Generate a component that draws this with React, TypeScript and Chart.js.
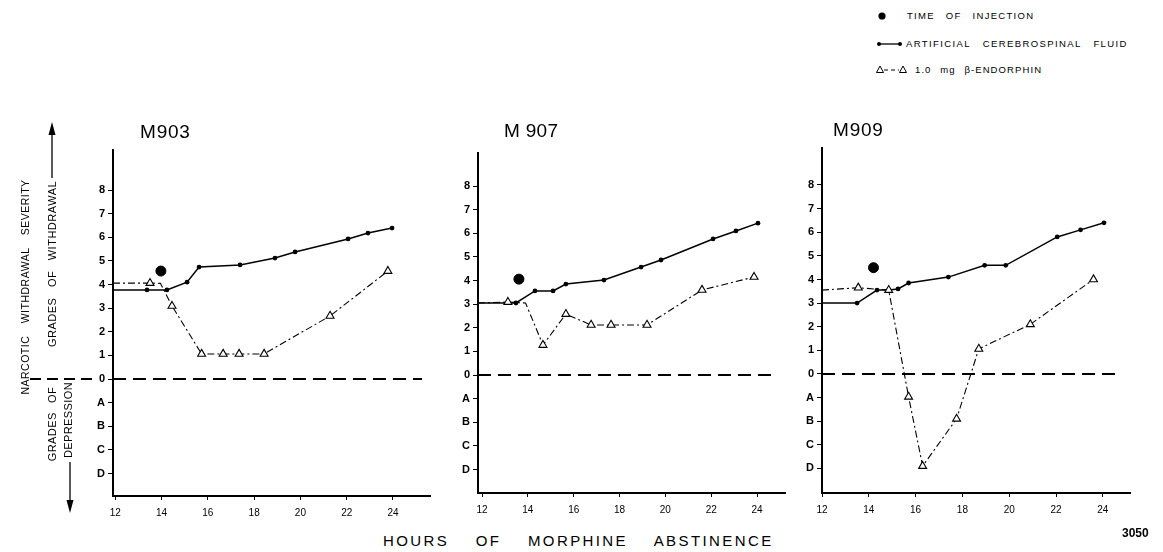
import React, { useEffect, useRef } from 'react';
import { Chart, registerables } from 'chart.js';

Chart.register(...registerables);

const FONT = "'Liberation Sans', 'DejaVu Sans', Arial, sans-serif";

// ---- axis ticks ----
const hourTicks = [12, 14, 16, 18, 20, 22, 24];
const gradeTicks = [-4, -3, -2, -1, 0, 1, 2, 3, 4, 5, 6, 7, 8];
const gradeLabels = ['D', 'C', 'B', 'A', '0', '1', '2', '3', '4', '5', '6', '7', '8'];

// ---- M903 ----
const m903AcsfHours = [13.37, 14.23, 15.1, 15.62, 17.39, 18.9, 19.77, 22.06, 22.92, 23.96];
const m903AcsfGrades = [3.77, 3.77, 4.1, 4.74, 4.83, 5.12, 5.38, 5.93, 6.18, 6.39];
const m903AcsfBaseline = 3.77;
const m903EndoHours = [13.5, 14.45, 15.73, 16.66, 17.35, 18.43, 21.28, 23.78];
const m903EndoGrades = [4.06, 3.09, 1.06, 1.06, 1.06, 1.06, 2.67, 4.57];
const m903EndoBaseline = 4.06;
const m903EndoBends = [[13.95, 4.05]];
const m903Injection = [13.97, 4.57];

// ---- M907 ----
const m907AcsfHours = [13.48, 14.31, 15.1, 15.66, 17.32, 18.94, 19.81, 22.08, 23.08, 24.04];
const m907AcsfGrades = [3.05, 3.56, 3.56, 3.85, 4.02, 4.57, 4.87, 5.76, 6.1, 6.43];
const m907AcsfBaseline = 3.05;
const m907EndoHours = [13.13, 14.66, 15.66, 16.76, 17.63, 19.2, 21.6, 23.87];
const m907EndoGrades = [3.09, 1.27, 2.58, 2.12, 2.12, 2.12, 3.6, 4.15];
const m907EndoBaseline = 3.05;
const m907EndoBends = [[13.9, 3.05]];
const m907Injection = [13.61, 4.06];

// ---- M909 ----
const m909AcsfHours = [13.5, 14.35, 14.85, 15.25, 15.7, 17.4, 18.95, 19.85, 22.05, 23.05, 24.05];
const m909AcsfGrades = [3.0, 3.55, 3.55, 3.6, 3.85, 4.1, 4.6, 4.6, 5.8, 6.1, 6.4];
const m909AcsfBaseline = 3.0;
const m909EndoHours = [13.55, 14.85, 15.7, 16.3, 17.75, 18.7, 20.9, 23.6];
const m909EndoGrades = [3.65, 3.55, -0.97, -3.9, -1.9, 1.06, 2.1, 4.0];
const m909EndoBaseline = 3.55;
const m909EndoBends: number[][] = [];
const m909Injection = [14.2, 4.5];

type Pt = { x: number; y: number };
const zip = (xs: number[], ys: number[]): Pt[] => xs.map((x, i) => ({ x, y: ys[i] }));

const panels = [
  {
    id: 'M903', left: 0, top: 140, w: 440, h: 386, yAxisWidth: 113,
    xMin: 11.9, xMax: 25.6, yMin: -4.953, yMax: 9.695, leftDash: [30, 96],
    acsfHours: m903AcsfHours, acsfGrades: m903AcsfGrades, acsfBase: m903AcsfBaseline,
    endoHours: m903EndoHours, endoGrades: m903EndoGrades, endoBase: m903EndoBaseline, endoBends: m903EndoBends,
    injection: m903Injection,
  },
  {
    id: 'M907', left: 438, top: 143, w: 357, h: 380, yAxisWidth: 40,
    xMin: 11.825, xMax: 25.22, yMin: -4.995, yMax: 9.4, leftDash: null,
    acsfHours: m907AcsfHours, acsfGrades: m907AcsfGrades, acsfBase: m907AcsfBaseline,
    endoHours: m907EndoHours, endoGrades: m907EndoGrades, endoBase: m907EndoBaseline, endoBends: m907EndoBends,
    injection: m907Injection,
  },
  {
    id: 'M909', left: 782, top: 138, w: 358, h: 385, yAxisWidth: 40,
    xMin: 12, xMax: 25.16, yMin: -5.04, yMax: 9.566, leftDash: null,
    acsfHours: m909AcsfHours, acsfGrades: m909AcsfGrades, acsfBase: m909AcsfBaseline,
    endoHours: m909EndoHours, endoGrades: m909EndoGrades, endoBase: m909EndoBaseline, endoBends: m909EndoBends,
    injection: m909Injection,
  },
];

const zeroLinePlugin = {
  id: 'zeroLine',
  beforeDatasetsDraw(chart: any, _args: any, opts: any) {
    const { ctx, chartArea, scales } = chart;
    const y = scales.y.getPixelForValue(0);
    ctx.save();
    ctx.strokeStyle = '#000';
    ctx.lineWidth = 2;
    ctx.setLineDash([13, 7]);
    ctx.beginPath();
    ctx.moveTo(chartArea.left, y);
    ctx.lineTo(chartArea.right - 8, y);
    ctx.stroke();
    if (opts && opts.leftDash) {
      ctx.setLineDash([11, 6]);
      ctx.beginPath();
      ctx.moveTo(opts.leftDash[0], y);
      ctx.lineTo(opts.leftDash[1], y);
      ctx.stroke();
    }
    ctx.restore();
  },
};

function Panel({ p }: { p: any }) {
  const ref = useRef<HTMLCanvasElement | null>(null);
  useEffect(() => {
    if (!ref.current) return;
    const acsfPts = zip(p.acsfHours, p.acsfGrades);
    const endoPts = zip(p.endoHours, p.endoGrades);
    const acsfTrace = [{ x: p.xMin, y: p.acsfBase }, ...acsfPts];
    const endoTrace = [
      { x: p.xMin, y: p.endoBase },
      ...endoPts,
      ...p.endoBends.map((b: number[]) => ({ x: b[0], y: b[1] })),
    ].sort((a, b) => a.x - b.x);

    const chart = new Chart(ref.current, {
      type: 'scatter',
      data: {
        datasets: [
          {
            label: '1.0 mg β-endorphin',
            data: endoPts,
            showLine: false,
            pointStyle: 'triangle',
            pointRadius: 4.6,
            pointBackgroundColor: '#fff',
            pointBorderColor: '#000',
            pointBorderWidth: 1.1,
            order: 0,
          } as any,
          {
            label: 'Artificial cerebrospinal fluid',
            data: acsfPts,
            showLine: false,
            pointStyle: 'circle',
            pointRadius: 2.4,
            pointBackgroundColor: '#000',
            pointBorderColor: '#000',
            pointBorderWidth: 0,
            order: 0,
          },
          {
            label: 'Time of injection',
            data: [{ x: p.injection[0], y: p.injection[1] }],
            showLine: false,
            pointStyle: 'circle',
            pointRadius: 5,
            pointBackgroundColor: '#000',
            pointBorderColor: '#000',
            order: 0,
          },
          {
            label: 'ACSF trace',
            data: acsfTrace,
            showLine: true,
            borderColor: '#000',
            borderWidth: 1.5,
            pointRadius: 0,
            order: 1,
          },
          {
            label: 'Endorphin trace',
            data: endoTrace,
            showLine: true,
            borderColor: '#000',
            borderWidth: 1.1,
            borderDash: [7, 3, 2, 3],
            pointRadius: 0,
            order: 1,
          },
        ],
      },
      options: {
        responsive: false,
        animation: false,
        events: [],
        layout: { padding: { top: 10, right: 10, bottom: 0, left: 0 } },
        plugins: {
          legend: { display: false },
          tooltip: { enabled: false },
          zeroLine: { leftDash: p.leftDash },
        } as any,
        scales: {
          x: {
            type: 'linear',
            min: p.xMin,
            max: p.xMax,
            afterBuildTicks: (s: any) => {
              s.ticks = hourTicks.map((v) => ({ value: v }));
            },
            afterFit: (s: any) => {
              s.height = 30;
            },
            border: { display: true, color: '#000', width: 2 },
            grid: { drawOnChartArea: false, drawTicks: true, tickLength: 4, color: '#000', lineWidth: 1 },
            ticks: {
              color: '#000',
              font: { family: FONT, size: 10 },
              padding: 7,
              maxRotation: 0,
              autoSkip: false,
              callback: (v: any) => String(v),
            },
          },
          y: {
            type: 'linear',
            min: p.yMin,
            max: p.yMax,
            afterBuildTicks: (s: any) => {
              s.ticks = gradeTicks.map((v) => ({ value: v }));
            },
            afterFit: (s: any) => {
              s.width = p.yAxisWidth;
            },
            border: { display: true, color: '#000', width: 2 },
            grid: { drawOnChartArea: false, drawTicks: true, tickLength: 5, color: '#000', lineWidth: 1 },
            ticks: {
              color: '#000',
              font: { family: FONT, size: 11, weight: 'bold' },
              padding: 3,
              autoSkip: false,
              callback: (v: any) => {
                const i = gradeTicks.indexOf(Number(v));
                return i >= 0 ? gradeLabels[i] : '';
              },
            },
          },
        },
      },
      plugins: [zeroLinePlugin],
    } as any);
    return () => chart.destroy();
  }, []);
  return (
    <canvas
      ref={ref}
      width={p.w}
      height={p.h}
      style={{ position: 'absolute', left: p.left, top: p.top, width: p.w, height: p.h }}
    />
  );
}

function HText({ text, x, y, size, ls = 0, ws = 0, weight = 'normal' }: any) {
  return (
    <div
      style={{
        position: 'absolute', left: x, top: y, transform: 'translateY(-50%)', whiteSpace: 'nowrap',
        fontFamily: FONT, fontSize: size, letterSpacing: ls, wordSpacing: ws, fontWeight: weight,
        lineHeight: 1, color: '#000',
      }}
    >
      {text}
    </div>
  );
}

function VText({ text, cx, cy, size, ls = 0, ws = 0 }: any) {
  return (
    <div
      style={{
        position: 'absolute', left: cx, top: cy, transform: 'translate(-50%,-50%) rotate(-90deg)',
        whiteSpace: 'nowrap', fontFamily: FONT, fontSize: size, letterSpacing: ls, wordSpacing: ws,
        lineHeight: 1, color: '#000',
      }}
    >
      {text}
    </div>
  );
}

export default function App() {
  useEffect(() => {
    document.body.style.margin = '0';
  }, []);
  return (
    <div style={{ position: 'absolute', left: 0, top: 0, width: 1163, height: 552, background: '#fff', overflow: 'hidden' }}>
      {panels.map((p) => (
        <Panel key={p.id} p={p} />
      ))}

      {/* panel titles */}
      <HText text="M903" x={140} y={131} size={19} ls={0.8} />
      <HText text="M 907" x={504} y={130} size={19} ls={0.3} />
      <HText text="M909" x={833} y={129} size={19} ls={0.8} />

      {/* legend */}
      <HText text="TIME OF INJECTION" x={907} y={16} size={9.5} ls={1.3} ws={7} />
      <HText text="ARTIFICIAL CEREBROSPINAL FLUID" x={906} y={44} size={9.5} ls={1.4} ws={8} />
      <HText text="1.0 mg β-ENDORPHIN" x={915} y={70} size={9.5} ls={1.1} ws={5} />

      {/* left axis labels */}
      <VText text="NARCOTIC WITHDRAWAL SEVERITY" cx={25} cy={287} size={10.5} ls={0.5} ws={9} />
      <VText text="GRADES OF WITHDRAWAL" cx={52} cy={264} size={11} ls={0.5} ws={7} />
      <VText text="GRADES OF" cx={52} cy={424} size={11} ls={0.4} ws={6} />
      <VText text="DEPRESSION" cx={68} cy={420} size={11} ls={0.4} />

      {/* bottom */}
      <HText text="HOURS OF MORPHINE ABSTINENCE" x={383} y={540} size={15} ls={2.4} ws={20} />
      <HText text="3050" x={1122} y={533} size={12} weight="bold" />

      <svg width={1163} height={552} style={{ position: 'absolute', left: 0, top: 0, pointerEvents: 'none' }}>
        {/* up arrow */}
        <line x1={52} y1={178} x2={52} y2={132} stroke="#000" strokeWidth={1.3} />
        <polygon points="52,122 48.5,135 55.5,135" fill="#000" />
        {/* down arrow */}
        <line x1={70} y1={462} x2={70} y2={502} stroke="#000" strokeWidth={1.3} />
        <polygon points="70,513 66.5,500 73.5,500" fill="#000" />
        {/* legend symbols */}
        <circle cx={882} cy={16} r={3.6} fill="#000" />
        <line x1={879} y1={44} x2={900} y2={44} stroke="#000" strokeWidth={1.3} />
        <circle cx={879} cy={44} r={2} fill="#000" />
        <circle cx={900} cy={44} r={2} fill="#000" />
        <line x1={884} y1={70} x2={899} y2={70} stroke="#000" strokeWidth={1} strokeDasharray="4,3" />
        <polygon points="880,66 876.5,72.5 883.5,72.5" fill="#fff" stroke="#000" strokeWidth={1} />
        <polygon points="903,66 899.5,72.5 906.5,72.5" fill="#fff" stroke="#000" strokeWidth={1} />
      </svg>
    </div>
  );
}
